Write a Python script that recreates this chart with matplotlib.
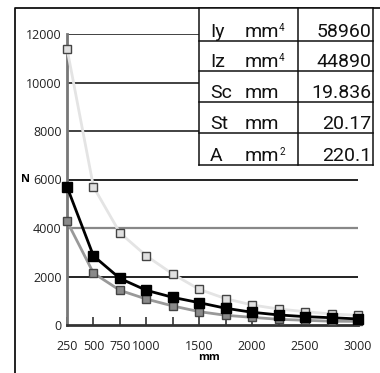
import numpy as np
import matplotlib
matplotlib.use("Agg")
import matplotlib.pyplot as plt
from matplotlib.lines import Line2D

# data
length_mm = [250, 500, 750, 1000, 1250, 1500, 1750, 2000, 2250, 2500, 2750, 3000]
n_light = [11400, 5700, 3800, 2850, 2100, 1470, 1085, 825, 660, 550, 455, 400]
n_black = [5700, 2850, 1920, 1430, 1140, 920, 690, 525, 415, 345, 300, 250]
n_gray = [4280, 2140, 1430, 1070, 785, 550, 400, 315, 235, 195, 155, 150]

x_ticks = [250, 500, 750, 1000, 1250, 1500, 1750, 2000, 2250, 2500, 2750, 3000]
x_tick_labels = ["250", "500", "750", "1000", "", "1500", "", "2000", "", "2500", "", "3000"]
y_ticks = [0, 2000, 4000, 6000, 8000, 10000, 12000]

table_names = ["Iy", "Iz", "Sc", "St", "A"]
table_units = ["mm", "mm", "mm", "mm", "mm"]
table_powers = ["4", "4", "", "", "2"]
table_values = ["58960", "44890", "19.836", "20.17", "220.1"]

W, H = 380, 373
fig = plt.figure(figsize=(W / 100, H / 100), dpi=100)

def px(x, y):
    # figure pixel (from top-left) -> figure fraction
    return x / W, 1 - y / H

ax = fig.add_axes([67 / W, (H - 325) / H, (358 - 67) / W, (325 - 34) / H])
ax.set_xlim(250, 3000)
ax.set_ylim(0, 12000)

# horizontal rules
grid_cols = {2000: "#111111", 4000: "#888888", 6000: "#111111",
             8000: "#333333", 10000: "#333333", 12000: "#333333"}
for yv in y_ticks[1:]:
    ax.axhline(yv, color=grid_cols[yv], lw=1.6 if yv == 4000 else 1.3, zorder=1)

ax.plot(length_mm, n_light, "-s", color="#e4e4e4", lw=2, ms=6,
        mfc="#e0e0e0", mec="#444444", mew=1, zorder=3, clip_on=False)
ax.plot(length_mm, n_gray, "-s", color="#999999", lw=2, ms=6,
        mfc="#8a8a8a", mec="#444444", mew=1, zorder=4, clip_on=False)
ax.plot(length_mm, n_black, "-s", color="#000000", lw=2, ms=6.5,
        mfc="#000000", mec="#000000", mew=1, zorder=5, clip_on=False)

for s in ["top", "right"]:
    ax.spines[s].set_visible(False)
ax.spines["left"].set_color("#777777")
ax.spines["left"].set_linewidth(2)
ax.spines["bottom"].set_color("#333333")
ax.spines["bottom"].set_linewidth(2)

ax.set_xticks(x_ticks)
ax.set_xticklabels(x_tick_labels)
ax.set_yticks(y_ticks)
ax.tick_params(axis="x", direction="in", length=6, width=1.2, color="#333333",
               pad=11, labelsize=9)
ax.tick_params(axis="y", length=0, pad=4, labelsize=9)
for lab in ax.get_xticklabels() + ax.get_yticklabels():
    lab.set_family("Open Sans")
    lab.set_color("#222222")

fig.text(*px(209, 358), "mm", ha="center", va="center", fontsize=8,
         fontweight="bold", family="Open Sans")
fig.text(*px(25, 180), "N", ha="center", va="center", fontsize=8,
         fontweight="bold", family="Open Sans")

# outer frame (left and top)
fig.add_artist(Line2D([15 / W, 15 / W, 1], [0, 1 - 8 / H, 1 - 8 / H],
                      color="#111111", lw=1.3, transform=fig.transFigure))

# property table
t_left, t_mid, t_right = 199, 298, 373
row_edges = [8, 41, 71, 102, 133, 165]
fig.patches.append(plt.Rectangle(px(t_left, row_edges[-1]),
                                 (t_right - t_left) / W,
                                 (row_edges[-1] - row_edges[0]) / H,
                                 transform=fig.transFigure, facecolor="white",
                                 edgecolor="none", zorder=5))
for ry in row_edges:
    fig.add_artist(Line2D([t_left / W, t_right / W], [1 - ry / H] * 2,
                          color="#111111", lw=1.1, transform=fig.transFigure, zorder=6))
for cx in [t_left, t_mid, t_right]:
    fig.add_artist(Line2D([cx / W] * 2, [1 - row_edges[0] / H, 1 - row_edges[-1] / H],
                          color="#111111", lw=1.1, transform=fig.transFigure, zorder=6))
fam = ["Roboto", "DejaVu Sans"]
for i in range(len(table_names)):
    base = row_edges[i + 1] - 4
    fig.text(*px(210, base), table_names[i], ha="left", va="baseline", fontsize=14,
             family=fam, color="#111111", zorder=7)
    fig.text(*px(245, base), table_units[i], ha="left", va="baseline", fontsize=14,
             family=fam, color="#111111", zorder=7)
    if table_powers[i]:
        fig.text(*px(279, base - 6), table_powers[i], ha="left", va="baseline",
                 fontsize=7, family=fam, color="#111111", zorder=7)
    fig.text(*px(371, base), table_values[i], ha="right", va="baseline", fontsize=14,
             family=fam, color="#111111", zorder=7)

fig.savefig("out.png", dpi=100)
